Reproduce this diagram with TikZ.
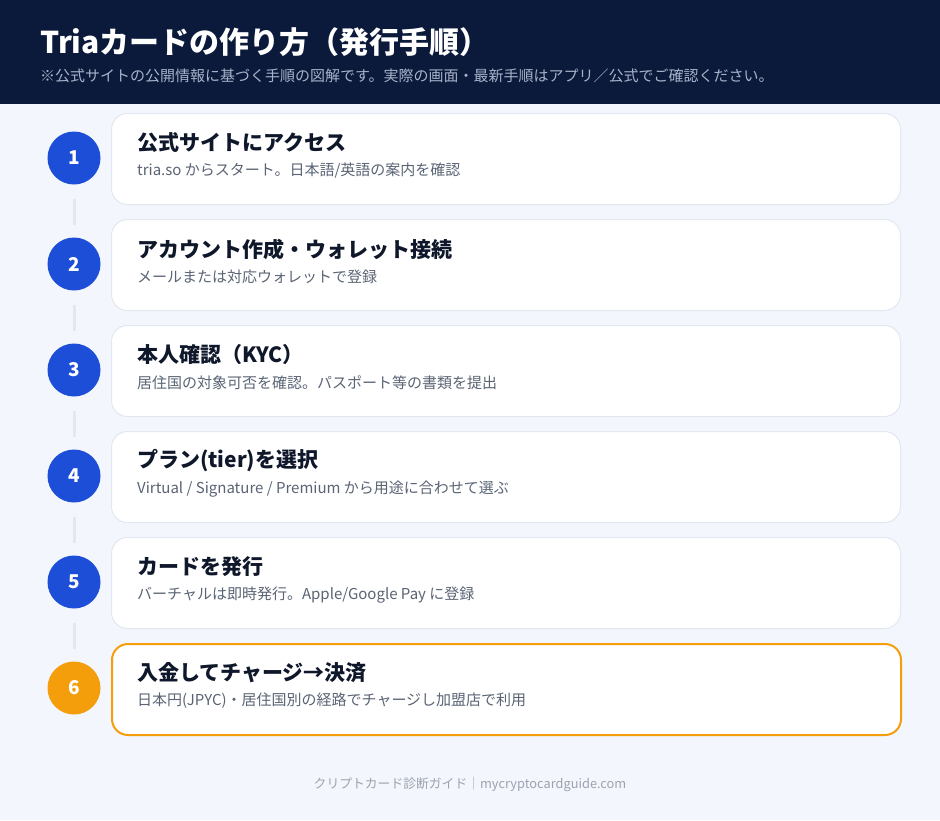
\documentclass[tikz,border=0pt]{standalone}
\usepackage{fontspec}
\setmainfont{Noto Sans CJK JP}
\definecolor{bgc}{HTML}{F3F6FC}
\definecolor{navy}{HTML}{0B1A3B}
\definecolor{hsub}{HTML}{A8B3CA}
\definecolor{cardline}{HTML}{E2E8F0}
\definecolor{ttlc}{HTML}{0F172A}
\definecolor{subc}{HTML}{5A6474}
\definecolor{blue}{HTML}{1D4ED8}
\definecolor{orange}{HTML}{F59E0B}
\definecolor{connc}{HTML}{E2E8F0}
\definecolor{footc}{HTML}{9CA3AF}
\tikzset{
  card/.style={draw=cardline, line width=1pt, fill=white, rounded corners=16pt,
    minimum width=789pt, minimum height=91pt, anchor=north west, inner sep=0pt},
  hicard/.style={card, draw=orange, line width=2pt},
  ttl/.style={anchor=west, text=ttlc, inner sep=0pt, font=\fontsize{21}{25}\selectfont\bfseries},
  sub/.style={anchor=west, text=subc, inner sep=0pt, font=\fontsize{15}{18}\selectfont},
  circ/.style={circle, fill=blue, minimum size=53pt, inner sep=0pt, text=white,
    font=\fontsize{19}{23}\selectfont\bfseries},
  hicirc/.style={circ, fill=orange},
  conn/.style={draw=connc, line width=3pt}
}
\begin{document}
\begin{tikzpicture}[x=1pt,y=-1pt]
\useasboundingbox (0,0) rectangle (940,820);
\fill[bgc] (0,0) rectangle (940,820);
\fill[navy] (0,0) rectangle (940,104);
\node[anchor=west, inner sep=0pt, text=white, font=\fontsize{30}{34}\selectfont\bfseries] (title) at (40,42) {Triaカードの作り方（発行手順）};
\node[anchor=west, inner sep=0pt, text=hsub, font=\fontsize{15}{18}\selectfont] (hsub) at (40,76) {※公式サイトの公開情報に基づく手順の図解です。実際の画面・最新手順はアプリ／公式でご確認ください。};

% cards
\node[card] (c1) at (111,113) {};
\node[card] (c2) at (111,219) {};
\node[card] (c3) at (111,325) {};
\node[card] (c4) at (111,431) {};
\node[card] (c5) at (111,537) {};
\node[hicard] (c6) at (111,643) {};

% circles
\node[circ] (n1) at (74,158) {1};
\node[circ] (n2) at (74,264) {2};
\node[circ] (n3) at (74,370) {3};
\node[circ] (n4) at (74,476) {4};
\node[circ] (n5) at (74,582) {5};
\node[hicirc] (n6) at (74,688) {6};

% connectors
\draw[conn] ([yshift=-14pt]n1.south) -- ([yshift=12pt]n2.north);
\draw[conn] ([yshift=-14pt]n2.south) -- ([yshift=12pt]n3.north);
\draw[conn] ([yshift=-14pt]n3.south) -- ([yshift=12pt]n4.north);
\draw[conn] ([yshift=-14pt]n4.south) -- ([yshift=12pt]n5.north);
\draw[conn] ([yshift=-14pt]n5.south) -- ([yshift=12pt]n6.north);

% texts
\node[ttl] (t1) at (137,143) {公式サイトにアクセス};
\node[sub] (s1) at (137,171) {tria.so からスタート。日本語/英語の案内を確認};
\node[ttl] (t2) at (137,249) {アカウント作成・ウォレット接続};
\node[sub] (s2) at (137,277) {メールまたは対応ウォレットで登録};
\node[ttl] (t3) at (137,355) {本人確認（KYC）};
\node[sub] (s3) at (137,383) {居住国の対象可否を確認。パスポート等の書類を提出};
\node[ttl] (t4) at (137,461) {プラン(tier)を選択};
\node[sub] (s4) at (137,489) {Virtual / Signature / Premium から用途に合わせて選ぶ};
\node[ttl] (t5) at (137,567) {カードを発行};
\node[sub] (s5) at (137,595) {バーチャルは即時発行。Apple/Google Pay に登録};
\node[ttl] (t6) at (137,673) {入金してチャージ→決済};
\node[sub] (s6) at (137,701) {日本円(JPYC)・居住国別の経路でチャージし加盟店で利用};

\node[inner sep=0pt, text=footc, font=\fontsize{12.8}{15}\selectfont] (foot) at (470,784) {クリプトカード診断ガイド｜mycryptocardguide.com};
\end{tikzpicture}
\end{document}
